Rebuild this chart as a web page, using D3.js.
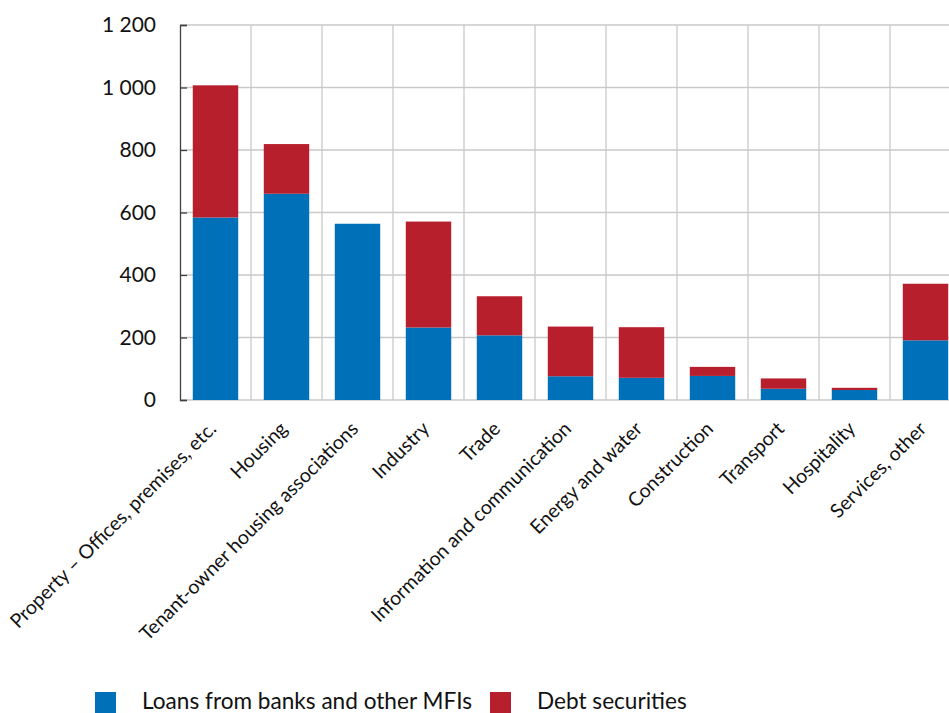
<!DOCTYPE html>
<html>
<head>
<meta charset="utf-8">
<script src="https://cdn.jsdelivr.net/npm/d3@7"></script>
<style>
  html, body { margin: 0; padding: 0; background: #fff; overflow: hidden; }
  svg { display: block; font-family: Lato, sans-serif; }
</style>
</head>
<body>
<svg id="chart" width="949" height="713"></svg>
<script>
// Lending to non-financial companies by sector, SEK billion
const categories = [
  "Property – Offices, premises, etc.",
  "Housing",
  "Tenant-owner housing associations",
  "Industry",
  "Trade",
  "Information and communication",
  "Energy and water",
  "Construction",
  "Transport",
  "Hospitality",
  "Services, other"
];
const loans = [584, 660, 564, 232, 207, 76, 71, 77, 36, 32, 191];
const debtSecurities = [423, 159, 0, 339, 125, 159, 162, 29, 33, 7, 181];
const seriesNames = ["Loans from banks and other MFIs", "Debt securities"];
const yTicks = [0, 200, 400, 600, 800, 1000, 1200];

const colors = ["#0070b8", "#b81f2d"];

const svg = d3.select("#chart");
const plot = { left: 180, top: 25, bottom: 400, step: 71 };
const plotRight = plot.left + plot.step * categories.length;

const x = d3.scaleBand()
  .domain(categories)
  .range([plot.left, plotRight])
  .paddingInner(0.36)
  .paddingOuter(0.18);

const y = d3.scaleLinear().domain([0, 1200]).range([plot.bottom, plot.top]);

const fmt = v => d3.format(",")(v).replace(/,/g, " ");

// horizontal grid
svg.append("g")
  .selectAll("line")
  .data(yTicks)
  .join("line")
  .attr("x1", plot.left).attr("x2", plotRight)
  .attr("y1", d => y(d)).attr("y2", d => y(d))
  .attr("stroke", "#c9c9c9").attr("stroke-width", 1.3);

// vertical grid between categories
svg.append("g")
  .selectAll("line")
  .data(categories.slice(1))
  .join("line")
  .attr("x1", d => x(d) - x.step() * x.paddingInner() / 2)
  .attr("x2", d => x(d) - x.step() * x.paddingInner() / 2)
  .attr("y1", plot.top).attr("y2", plot.bottom)
  .attr("stroke", "#c9c9c9").attr("stroke-width", 1.3);

// stacked bars
const rows = categories.map((c, i) => ({ cat: c, loans: loans[i], debt: debtSecurities[i] }));
const stack = d3.stack().keys(["loans", "debt"])(rows);

svg.append("g")
  .selectAll("g")
  .data(stack)
  .join("g")
  .attr("fill", (d, i) => colors[i])
  .selectAll("rect")
  .data(d => d)
  .join("rect")
  .attr("x", d => x(d.data.cat))
  .attr("width", x.bandwidth())
  .attr("y", d => y(d[1]))
  .attr("height", d => Math.max(0, y(d[0]) - y(d[1])));

// y axis
const yAxis = d3.axisLeft(y).tickValues(yTicks).tickFormat(fmt).tickSize(-7).tickPadding(24);
const ya = svg.append("g").attr("transform", `translate(${plot.left},0)`).call(yAxis);
ya.select(".domain").attr("stroke", "#404040").attr("stroke-width", 1.3);
ya.selectAll(".tick line").attr("stroke", "#404040").attr("stroke-width", 1.3);
ya.selectAll(".tick text")
  .attr("fill", "#111")
  .style("font-size", "21px")
  .style("font-family", "Lato, sans-serif");

// category labels, rotated, ending under each bar
svg.append("g")
  .selectAll("text")
  .data(categories)
  .join("text")
  .attr("transform", d => `translate(${x(d) + x.bandwidth() / 2 + 2},430) rotate(-45)`)
  .attr("text-anchor", "end")
  .attr("fill", "#111")
  .style("font-size", "19.5px")
  .text(d => d);

// legend
const legend = svg.append("g");
const legendItems = [
  { name: seriesNames[0], color: colors[0], sx: 95, tx: 142 },
  { name: seriesNames[1], color: colors[1], sx: 490, tx: 537 }
];
legend.selectAll("rect")
  .data(legendItems)
  .join("rect")
  .attr("x", d => d.sx).attr("y", 692)
  .attr("width", 21).attr("height", 21)
  .attr("fill", d => d.color);
legend.selectAll("text")
  .data(legendItems)
  .join("text")
  .attr("x", d => d.tx).attr("y", 708.5)
  .attr("fill", "#111")
  .style("font-size", "22.6px")
  .text(d => d.name);
</script>
</body>
</html>
